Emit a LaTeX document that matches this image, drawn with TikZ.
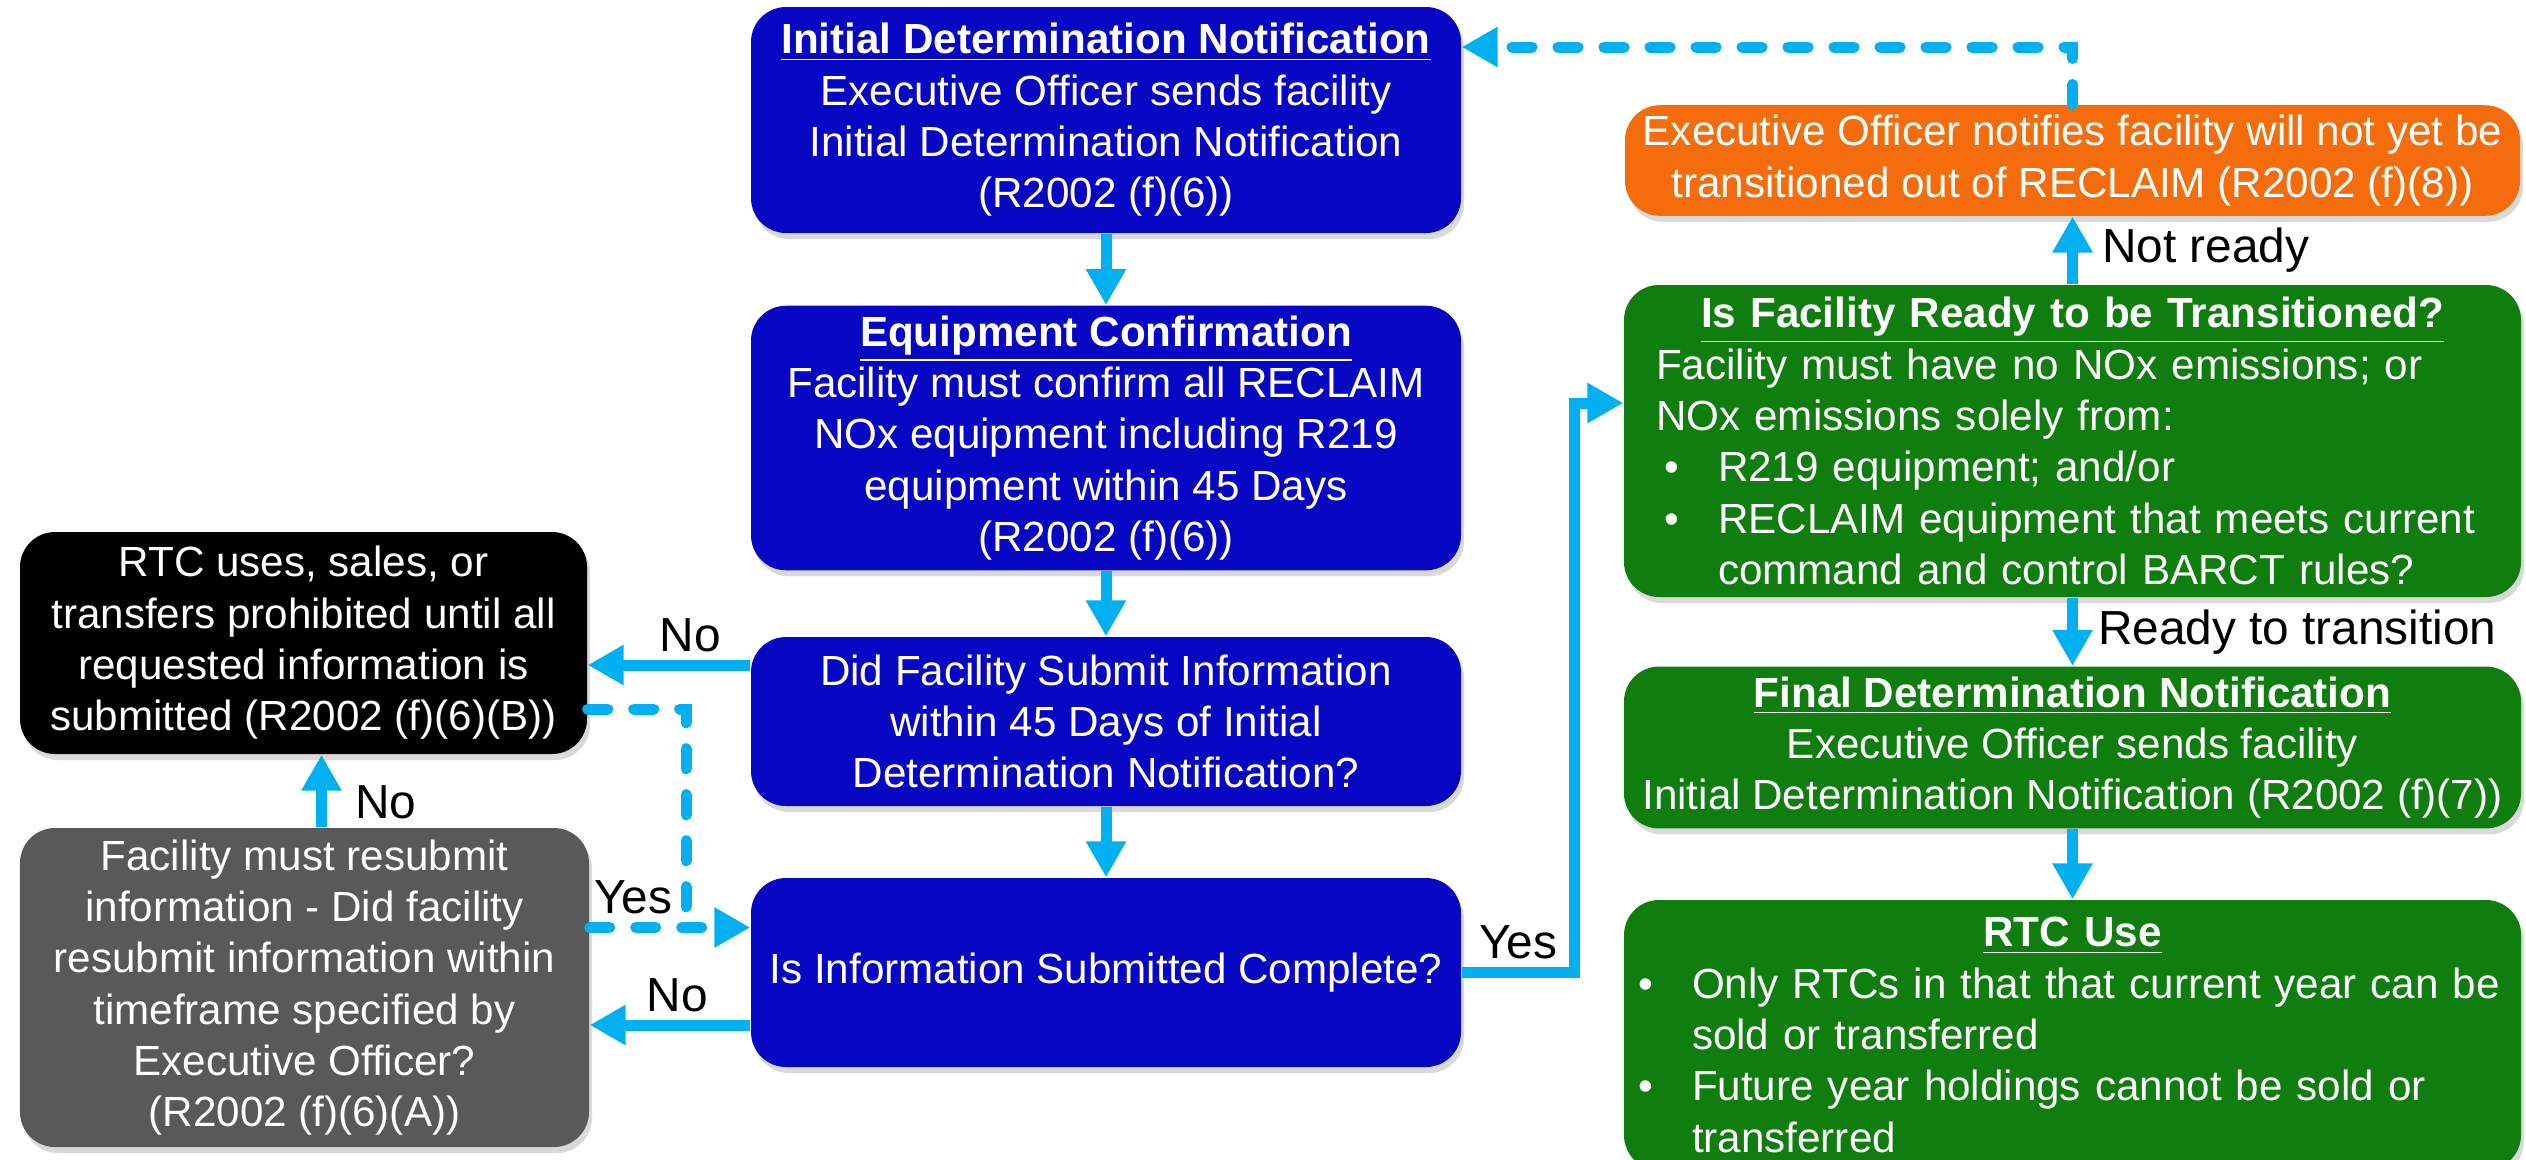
\documentclass[tikz,border=0pt]{standalone}
\usepackage{fontspec}
\setmainfont{Liberation Sans}
\usetikzlibrary{arrows.meta,shadows}

\definecolor{boxblue}{RGB}{8,8,196}
\definecolor{boxgreen}{RGB}{16,126,14}
\definecolor{boxorange}{RGB}{245,108,12}
\definecolor{boxgray}{RGB}{89,89,89}
\definecolor{flowcyan}{RGB}{0,176,240}

\newcommand{\bul}[1]{\par\hangindent=0.62cm\hangafter=1\noindent\hbox to 0.62cm{\hspace{0.08cm}\textbullet\hss}#1\par}

\tikzset{
  box/.style={rounded corners=0.35cm, text=white, align=center, inner sep=0.1cm,
    font=\fontsize{12}{14.6}\selectfont,
    drop shadow={shadow xshift=0.03cm, shadow yshift=-0.06cm, opacity=0.3}},
  flow/.style={draw=flowcyan, line width=0.11cm, -{Triangle[width=0.38cm,length=0.36cm]}},
  back/.style={flow, dash pattern=on 0.2cm off 0.26cm, line cap=round},
  lbl/.style={font=\fontsize{13.6}{16}\selectfont, inner sep=0.08cm}
}

\begin{document}
\begin{tikzpicture}

\useasboundingbox (0,0) rectangle (25.26,-11.59);

\node[box, fill=boxblue, minimum width=7.1cm, minimum height=2.26cm] (initial) at (11.06,-1.20) {\underline{\textbf{Initial Determination Notification}}\\Executive Officer sends facility\\Initial Determination Notification\\(R2002 (f)(6))};
\node[box, fill=boxblue, minimum width=7.1cm, minimum height=2.64cm] (confirm) at (11.06,-4.38) {\underline{\textbf{Equipment Confirmation}}\\Facility must confirm all RECLAIM\\NOx equipment including R219\\equipment within 45 Days\\(R2002 (f)(6))};
\node[box, fill=boxblue, minimum width=7.1cm, minimum height=1.69cm] (submitted) at (11.06,-7.215) {Did Facility Submit Information\\within 45 Days of Initial\\Determination Notification?};
\node[box, fill=boxblue, minimum width=7.1cm, minimum height=1.89cm] (complete) at (11.06,-9.725) {Is Information Submitted Complete?};

\node[box, fill=black, minimum width=5.67cm, minimum height=2.22cm] (prohibited) at (3.035,-6.43) {RTC uses, sales, or\\transfers prohibited until all\\requested information is\\submitted (R2002 (f)(6)(B))};
\node[box, fill=boxgray, minimum width=5.69cm, minimum height=3.19cm] (resubmit) at (3.045,-9.875) {Facility must resubmit\\information - Did facility\\resubmit information within\\timeframe specified by\\Executive Officer?\\(R2002 (f)(6)(A))};

\node[box, fill=boxorange, minimum width=8.95cm, minimum height=1.05cm] (notready) at (20.725,-1.605) {Executive Officer notifies facility will not yet be\\transitioned out of RECLAIM (R2002 (f)(8))};
\node[box, fill=boxgreen, minimum width=8.97cm, minimum height=3.12cm, text width=8.33cm, inner xsep=0.32cm, align=left] (ready) at (20.725,-4.41) {{\centering\underline{\textbf{Is Facility Ready to be Transitioned?}}\par}
Facility must have no NOx emissions; or\\NOx emissions solely from:
\bul{R219 equipment; and/or}
\bul{RECLAIM equipment that meets current command and control BARCT rules?}};
\node[box, fill=boxgreen, minimum width=8.97cm, minimum height=1.61cm] (final) at (20.725,-7.475) {\underline{\textbf{Final Determination Notification}}\\Executive Officer sends facility\\Initial Determination Notification (R2002 (f)(7))};
\node[box, fill=boxgreen, minimum width=8.97cm, minimum height=2.7cm, text width=8.85cm, inner xsep=0.06cm, align=left] (rtcuse) at (20.725,-10.35) {{\centering\underline{\textbf{RTC Use}}\par}
\bul{Only RTCs in that that current year can be sold or transferred}
\bul{Future year holdings cannot be sold or transferred}};

\draw[flow] (initial) -- (confirm);
\draw[flow] (confirm) -- (submitted);
\draw[flow] (submitted) -- (complete);
\draw[flow] ([yshift=-0.22cm]prohibited.east -| submitted.west) -- node[lbl, above, pos=0.37] {No} ([yshift=-0.22cm]prohibited.east);
\draw[flow] ([yshift=-0.375cm]resubmit.east -| complete.west) -- node[lbl, above, pos=0.455] {No} ([yshift=-0.375cm]resubmit.east);
\draw[flow] ([xshift=0.17cm]resubmit.north) -- node[lbl, right=0.2cm, pos=0.34] {No} ([xshift=0.17cm]resubmit.north |- prohibited.south);

\coordinate (join) at (6.86,-9.275);
\draw[back, -] ([yshift=-0.66cm]prohibited.east) -| (join);
\draw[back] ([yshift=0.6cm]resubmit.east) -- node[lbl, above, pos=0.27] {Yes} ([yshift=0.6cm]resubmit.east -| complete.west);

\draw[flow] (complete.east) -- node[lbl, above] {Yes} ++(1.13,0) |- ([yshift=0.38cm]ready.west);
\draw[flow] (ready) -- node[lbl, right=0.16cm] {Not ready} (notready);
\draw[back] (notready.north) |- ([yshift=0.73cm]initial.east);
\draw[flow] (ready) -- node[lbl, right=0.12cm] {Ready to transition} (final);
\draw[flow] (final) -- (rtcuse);

\end{tikzpicture}
\end{document}
